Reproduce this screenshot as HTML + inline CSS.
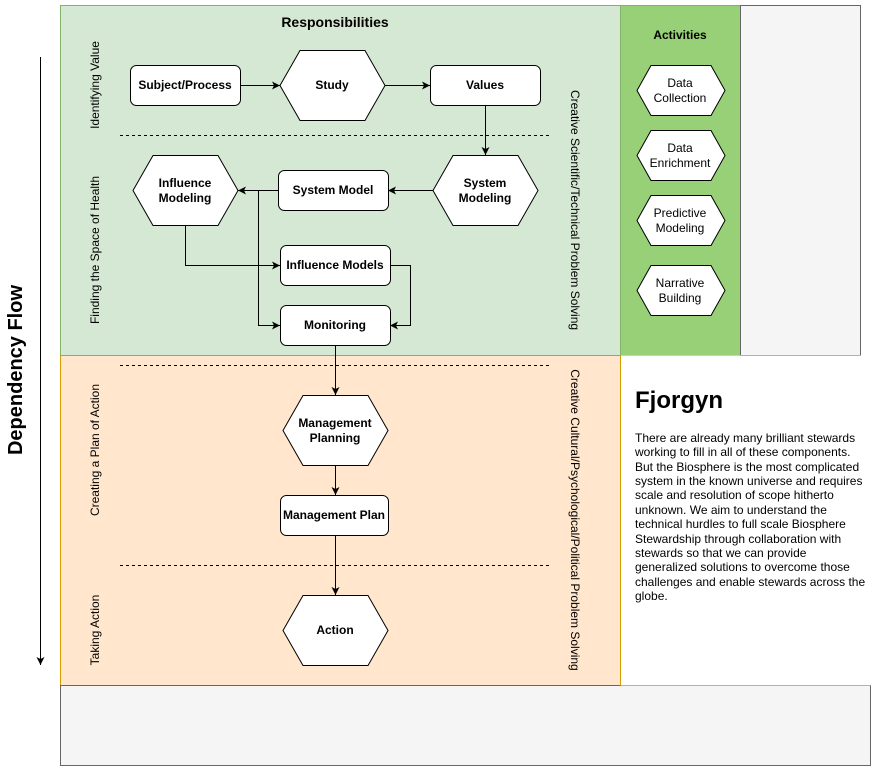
<!DOCTYPE html>
<html><head><style>body{margin:0;background:#fff}svg{display:block;font-family:"Liberation Sans",Arial,sans-serif}</style></head><body>
<svg width="871" height="767" viewBox="0 0 871 767">
<defs><marker id="a" markerWidth="10" markerHeight="10" refX="8" refY="5" orient="auto" markerUnits="userSpaceOnUse"><path d="M0,1 L8,5 L0,9 L2,5 Z" fill="#000"/></marker></defs>
<rect x="60.5" y="5.5" width="560" height="350" fill="#d5e8d4" stroke="#82b366"/>
<rect x="60.5" y="355.5" width="560" height="330" fill="#ffe6cc" stroke="#d79b00"/>
<rect x="620.5" y="5.5" width="120" height="350" fill="#97d077" stroke="#82b366"/>
<rect x="740.5" y="5.5" width="120" height="350" fill="#f5f5f5" stroke="#666"/>
<rect x="60.5" y="685.5" width="810" height="80" fill="#f5f5f5" stroke="#666"/>
<g stroke="#000" stroke-dasharray="3,3"><line x1="120" y1="135.5" x2="550" y2="135.5"/><line x1="120" y1="365.5" x2="550" y2="365.5"/><line x1="120" y1="565.5" x2="550" y2="565.5"/></g>
<line x1="40.5" y1="57" x2="40.5" y2="665" stroke="#000" marker-end="url(#a)"/>
<text transform="translate(22,370) rotate(-90)" text-anchor="middle" font-size="20" font-weight="bold">Dependency Flow</text>
<g font-size="12" text-anchor="middle">
<text transform="translate(99,85) rotate(-90)">Identifying Value</text>
<text transform="translate(99,250) rotate(-90)">Finding the Space of Health</text>
<text transform="translate(99,450) rotate(-90)">Creating a Plan of Action</text>
<text transform="translate(99,630) rotate(-90)">Taking Action</text>
<text transform="translate(571,210) rotate(90)">Creative Scientific/Technical Problem Solving</text>
<text transform="translate(571,520) rotate(90)">Creative Cultural/Psychological/Political Problem Solving</text>
</g>
<text x="335" y="27" text-anchor="middle" font-size="14" font-weight="bold">Responsibilities</text>
<text x="680" y="39" text-anchor="middle" font-size="12" font-weight="bold">Activities</text>
<g stroke="#000" fill="none">
<path d="M240,85.5H280" marker-end="url(#a)"/>
<path d="M385,85.5H430" marker-end="url(#a)"/>
<path d="M485.5,105V155" marker-end="url(#a)"/>
<path d="M433,190.5H388" marker-end="url(#a)"/>
<path d="M278,190.5H238" marker-end="url(#a)"/>
<path d="M258.5,190V325.5H280" marker-end="url(#a)"/>
<path d="M185.5,225V265.5H280" marker-end="url(#a)"/>
<path d="M390,265.5H410.5V325.5H390" marker-end="url(#a)"/>
<path d="M335.5,345V395" marker-end="url(#a)"/>
<path d="M335.5,465V495" marker-end="url(#a)"/>
<path d="M335.5,535V595" marker-end="url(#a)"/>
</g>
<g fill="#fff" stroke="#000">
<rect x="130.5" y="65.5" width="110" height="40" rx="6"/>
<rect x="430.5" y="65.5" width="110" height="40" rx="6"/>
<rect x="278.5" y="170.5" width="110" height="40" rx="6"/>
<rect x="280.5" y="245.5" width="110" height="40" rx="6"/>
<rect x="280.5" y="305.5" width="110" height="40" rx="6"/>
<rect x="280.5" y="495.5" width="108" height="40" rx="6"/>
<polygon points="300,50.5 365,50.5 385,85.5 365,120.5 300,120.5 280,85.5"/>
<polygon points="453,155.5 518,155.5 538,190.5 518,225.5 453,225.5 433,190.5"/>
<polygon points="153,155.5 218,155.5 238,190.5 218,225.5 153,225.5 133,190.5"/>
<polygon points="303,395.5 368,395.5 388,430.5 368,465.5 303,465.5 283,430.5"/>
<polygon points="303,595.5 368,595.5 388,630.5 368,665.5 303,665.5 283,630.5"/>
<polygon points="651,65.5 711,65.5 725,90.5 711,115.5 651,115.5 637,90.5"/>
<polygon points="651,130.5 711,130.5 725,155.5 711,180.5 651,180.5 637,155.5"/>
<polygon points="651,195.5 711,195.5 725,220.5 711,245.5 651,245.5 637,220.5"/>
<polygon points="651,265.5 711,265.5 725,290.5 711,315.5 651,315.5 637,290.5"/>
</g>
<g font-size="12" font-weight="bold" text-anchor="middle">
<text x="185" y="89">Subject/Process</text>
<text x="332" y="89">Study</text>
<text x="485" y="89">Values</text>
<text x="485" y="187">System</text><text x="485" y="202">Modeling</text>
<text x="333" y="194">System Model</text>
<text x="185" y="187">Influence</text><text x="185" y="202">Modeling</text>
<text x="335" y="269">Influence Models</text>
<text x="335" y="329">Monitoring</text>
<text x="335" y="427">Management</text><text x="335" y="442">Planning</text>
<text x="334" y="519">Management Plan</text>
<text x="335" y="634">Action</text>
</g>
<g font-size="12" text-anchor="middle">
<text x="680" y="87">Data</text><text x="680" y="102">Collection</text>
<text x="680" y="152">Data</text><text x="680" y="167">Enrichment</text>
<text x="680" y="217">Predictive</text><text x="680" y="232">Modeling</text>
<text x="680" y="287">Narrative</text><text x="680" y="302">Building</text>
</g>
<rect x="620.5" y="355.5" width="250" height="330" fill="#fff"/>
<line x1="620.5" y1="355" x2="620.5" y2="685" stroke="#d79b00"/>
<text x="635" y="408" font-size="24" font-weight="bold">Fjorgyn</text>
<g font-size="12">
<text x="635" y="442">There are already many brilliant stewards</text>
<text x="635" y="456">working to fill in all of these components.</text>
<text x="635" y="471">But the Biosphere is the most complicated</text>
<text x="635" y="485">system in the known universe and requires</text>
<text x="635" y="499">scale and resolution of scope hitherto</text>
<text x="635" y="514">unknown. We aim to understand the</text>
<text x="635" y="528">technical hurdles to full scale Biosphere</text>
<text x="635" y="543">Stewardship through collaboration with</text>
<text x="635" y="557">stewards so that we can provide</text>
<text x="635" y="571">generalized solutions to overcome those</text>
<text x="635" y="586">challenges and enable stewards across the</text>
<text x="635" y="600">globe.</text>
</g>
</svg>
</body></html>
